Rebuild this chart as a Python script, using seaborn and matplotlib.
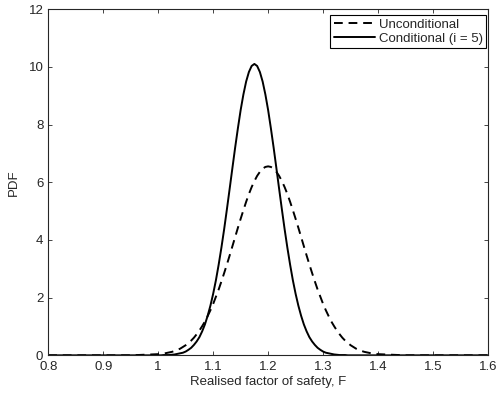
import numpy as np
import pandas as pd
import seaborn as sns
import matplotlib
matplotlib.use("Agg")
import matplotlib.pyplot as plt

# realised factor of safety (x grid)
F = [0.80, 0.85, 0.90, 0.95,
     1.000, 1.005, 1.010, 1.015, 1.020, 1.025, 1.030, 1.035, 1.040, 1.045,
     1.050, 1.055, 1.060, 1.065, 1.070, 1.075, 1.080, 1.085, 1.090, 1.095,
     1.100, 1.105, 1.110, 1.115, 1.120, 1.125, 1.130, 1.135, 1.140, 1.145,
     1.150, 1.155, 1.160, 1.165, 1.170, 1.175, 1.180, 1.185, 1.190, 1.195,
     1.200, 1.205, 1.210, 1.215, 1.220, 1.225, 1.230, 1.235, 1.240, 1.245,
     1.250, 1.255, 1.260, 1.265, 1.270, 1.275, 1.280, 1.285, 1.290, 1.295,
     1.300, 1.305, 1.310, 1.315, 1.320, 1.325, 1.330, 1.335, 1.340, 1.345,
     1.350, 1.355, 1.360, 1.365, 1.370, 1.375, 1.380, 1.385, 1.390, 1.395,
     1.400, 1.45, 1.50, 1.55, 1.60]

unconditional = [0.0, 0.0, 0.0, 0.0,
    0.04, 0.05, 0.06, 0.08, 0.10, 0.12, 0.15, 0.19, 0.23, 0.29,
    0.35, 0.43, 0.51, 0.61, 0.73, 0.86, 1.01, 1.17, 1.36, 1.56,
    1.78, 2.03, 2.28, 2.56, 2.85, 3.15, 3.46, 3.78, 4.10, 4.42,
    4.73, 5.03, 5.32, 5.59, 5.83, 6.04, 6.22, 6.36, 6.47, 6.53,
    6.55, 6.53, 6.47, 6.36, 6.22, 6.04, 5.83, 5.59, 5.32, 5.03,
    4.73, 4.42, 4.10, 3.78, 3.46, 3.15, 2.85, 2.56, 2.28, 2.03,
    1.78, 1.56, 1.36, 1.17, 1.01, 0.86, 0.73, 0.61, 0.51, 0.43,
    0.35, 0.29, 0.23, 0.19, 0.15, 0.12, 0.10, 0.08, 0.06, 0.05,
    0.04, 0.0, 0.0, 0.0, 0.0]

conditional = [0.0, 0.0, 0.0, 0.0,
    0.00, 0.00, 0.01, 0.01, 0.01, 0.02, 0.03, 0.05, 0.07, 0.09,
    0.13, 0.19, 0.26, 0.36, 0.48, 0.63, 0.83, 1.07, 1.37, 1.72,
    2.13, 2.60, 3.14, 3.73, 4.37, 5.06, 5.77, 6.49, 7.20, 7.87,
    8.50, 9.04, 9.49, 9.82, 10.03, 10.10, 10.03, 9.82, 9.49, 9.04,
    8.50, 7.87, 7.20, 6.49, 5.77, 5.06, 4.37, 3.73, 3.14, 2.60,
    2.13, 1.72, 1.37, 1.07, 0.83, 0.63, 0.48, 0.36, 0.26, 0.19,
    0.13, 0.09, 0.07, 0.05, 0.03, 0.02, 0.01, 0.01, 0.01, 0.00,
    0.00, 0.00, 0.00, 0.00, 0.00, 0.00, 0.00, 0.00, 0.00, 0.00,
    0.00, 0.0, 0.0, 0.0, 0.0]

labels = ['Unconditional', 'Conditional (i = 5)']

df = pd.DataFrame({'F': F * 2,
                   'PDF': unconditional + conditional,
                   'case': [labels[0]] * len(F) + [labels[1]] * len(F)})

sns.set_style('ticks')
plt.rcParams['font.family'] = ['Liberation Sans', 'DejaVu Sans']
plt.rcParams['font.size'] = 9.5
plt.rcParams['xtick.direction'] = 'in'
plt.rcParams['ytick.direction'] = 'in'

fig = plt.figure(figsize=(4.97, 3.97), dpi=100)
ax = fig.add_axes([0.097, 0.105, 0.885, 0.872])

sns.lineplot(data=df, x='F', y='PDF', hue='case', style='case',
             palette=['black', 'black'],
             dashes={labels[0]: (4.5, 3), labels[1]: ''},
             linewidth=1.4, ax=ax, sort=False)

ax.set_xlim(0.8, 1.6)
ax.set_ylim(0, 12)
ax.set_xticks([0.8, 0.9, 1, 1.1, 1.2, 1.3, 1.4, 1.5, 1.6])
ax.set_xticklabels(['0.8', '0.9', '1', '1.1', '1.2', '1.3', '1.4', '1.5', '1.6'])
ax.set_yticks([0, 2, 4, 6, 8, 10, 12])
ax.tick_params(top=True, right=True, length=3, width=0.6, labelsize=9.5)
ax.tick_params(axis='x', pad=4)
ax.tick_params(axis='y', pad=3.5)
for s in ax.spines.values():
    s.set_linewidth(0.8)
ax.set_xlabel('Realised factor of safety, F', fontsize=9.5, labelpad=2)
ax.set_ylabel('PDF', fontsize=9.5, labelpad=6)

leg = ax.legend(loc='upper right', bbox_to_anchor=(0.995, 0.982),
                borderaxespad=0, fontsize=9.5, fancybox=False,
                edgecolor='black', framealpha=1, handlelength=3.1,
                handletextpad=0.3, borderpad=0.25, labelspacing=0.15)
leg.get_frame().set_linewidth(0.8)

fig.savefig('out.png', dpi=100)
